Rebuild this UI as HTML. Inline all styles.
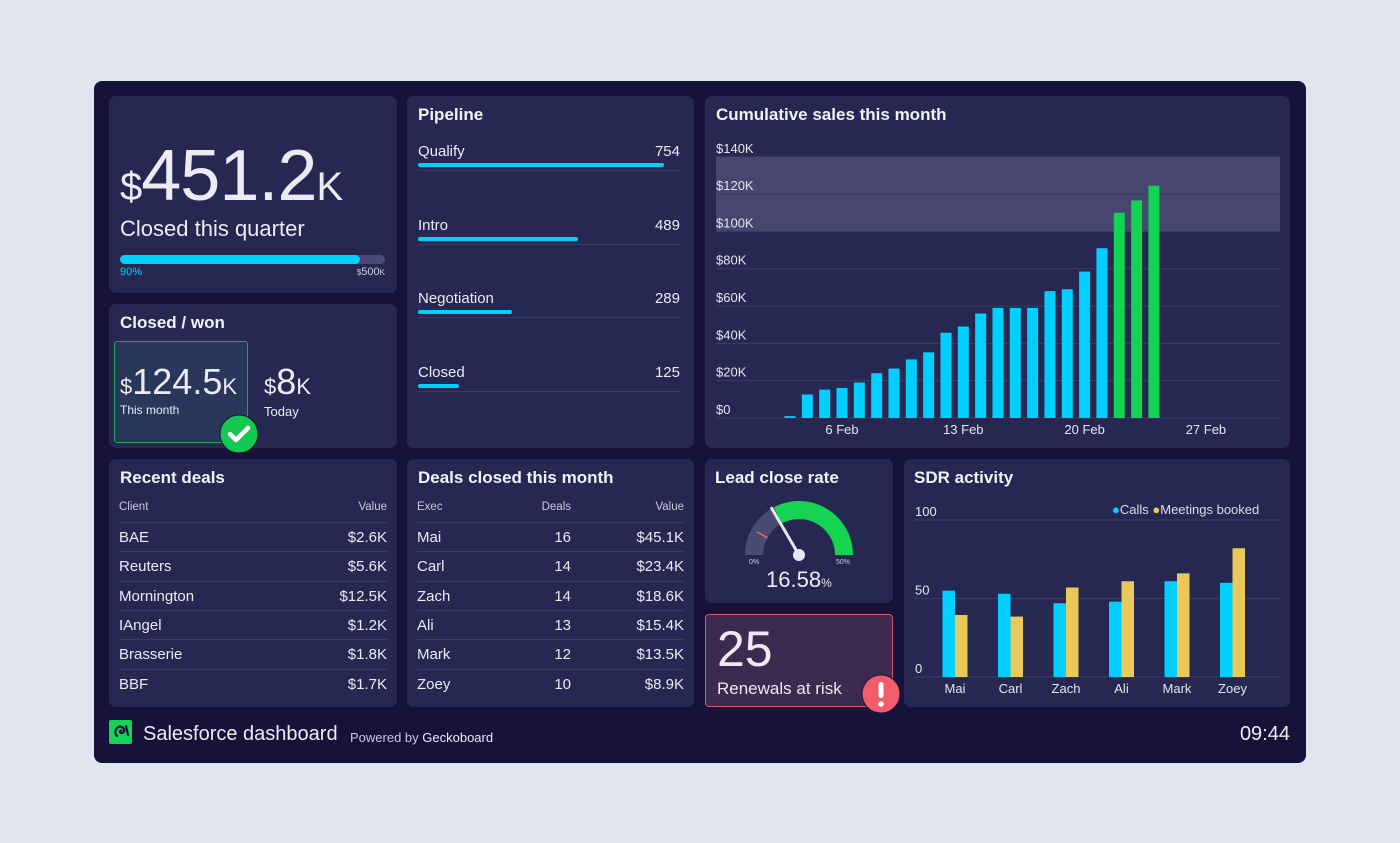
<!DOCTYPE html>
<html><head><meta charset="utf-8">
<style>
*{box-sizing:border-box;margin:0;padding:0}
body{width:1400px;height:843px;background:#e1e5ef;font-family:"Liberation Sans",sans-serif;color:#eceaf2;position:relative;overflow:hidden}
.dash{position:absolute;left:94px;top:81px;width:1212px;height:682px;background:#16123a;border-radius:8px}
.p{position:absolute;background:#272852;border-radius:7px}
.t{position:absolute;font-weight:bold;font-size:17px;color:#f2f1f7}
.a{position:absolute;white-space:nowrap}
.row{position:absolute;left:10px;right:10px;height:29px;font-size:15px;border-top:1px solid #3b3c66}
.row span{position:absolute;top:6px}
.hdr{position:absolute;left:10px;right:10px;font-size:11.5px;color:#c9c8d8}
</style></head><body>
<div class="dash"></div>

<!-- big number -->
<div class="p" style="left:109px;top:96px;width:288px;height:197px">
 <div class="a" style="left:11px;top:44px;font-size:72px;line-height:72px;letter-spacing:-1px"><span style="font-size:40px">$</span>451.2<span style="font-size:40px">K</span></div>
 <div class="a" style="left:11px;top:120px;font-size:22px">Closed this quarter</div>
 <div class="a" style="left:11px;top:159px;width:265px;height:9px;border-radius:5px;background:#4a4b74"><div style="width:240px;height:9px;border-radius:5px;background:#00d1ff"></div></div>
 <div class="a" style="left:11px;top:170px;font-size:11px;color:#00d1ff">90%</div>
 <div class="a" style="right:12px;top:170px;font-size:11px;color:#d0cfe0"><span style="font-size:8px">$</span>500<span style="font-size:8px">K</span></div>
</div>

<!-- closed won -->
<div class="p" style="left:109px;top:304px;width:288px;height:144px">
 <div class="t" style="left:11px;top:9px">Closed / won</div>
 <div class="a" style="left:5px;top:37px;width:134px;height:102px;background:#29375a;border:1px solid #1fa55a;border-radius:3px"></div>
 <div class="a" style="left:11px;top:58px;font-size:36px;line-height:40px"><span style="font-size:22px">$</span>124.5<span style="font-size:22px">K</span></div>
 <div class="a" style="left:11px;top:99px;font-size:12px">This month</div>
 <div class="a" style="left:155px;top:58px;font-size:36px;line-height:40px"><span style="font-size:22px">$</span>8<span style="font-size:22px">K</span></div>
 <div class="a" style="left:155px;top:100px;font-size:13px">Today</div>
</div>
<svg class="a" style="left:219px;top:414px" width="40" height="40"><circle cx="20" cy="20" r="19" fill="#14c850" stroke="#16123a" stroke-width="1"/><path d="M11 20 L17 26 L29 14" stroke="#fff" stroke-width="4.5" fill="none" stroke-linecap="round" stroke-linejoin="round"/></svg>

<!-- pipeline -->
<div class="p" style="left:407px;top:96px;width:287px;height:352px">
 <div class="t" style="left:11px;top:9px">Pipeline</div>
 <div id="pipe"></div>
</div>

<!-- cumulative -->
<div class="p" style="left:705px;top:96px;width:585px;height:352px">
 <div class="t" style="left:11px;top:9px">Cumulative sales this month</div>
</div>
<svg id="cum" class="a" style="left:0;top:0" width="1400" height="843"></svg>

<!-- recent deals -->
<div class="p" style="left:109px;top:459px;width:288px;height:248px">
 <div class="t" style="left:11px;top:9px">Recent deals</div>
 <div class="hdr" style="top:42px"><span>Client</span><span style="position:absolute;right:0">Value</span></div>
 <div id="recent"></div>
</div>

<!-- deals closed -->
<div class="p" style="left:407px;top:459px;width:287px;height:248px">
 <div class="t" style="left:11px;top:9px">Deals closed this month</div>
 <div class="hdr" style="top:42px"><span>Exec</span><span style="position:absolute;right:113px">Deals</span><span style="position:absolute;right:0">Value</span></div>
 <div id="closed"></div>
</div>

<!-- lead close rate -->
<div class="p" style="left:705px;top:459px;width:188px;height:144px">
 <div class="t" style="left:10px;top:9px">Lead close rate</div>
 <div class="a" style="left:44px;top:100px;font-size:7px;color:#d0cfe0">0%</div>
 <div class="a" style="left:131px;top:100px;font-size:7px;color:#d0cfe0">50%</div>
 <div class="a" style="left:61px;top:108px;font-size:22px">16.58<span style="font-size:12px">%</span></div>
</div>
<svg id="gauge" class="a" style="left:0;top:0" width="1400" height="843"></svg>

<!-- renewals -->
<div class="p" style="left:705px;top:614px;width:188px;height:93px;background:#3c2a50;border:1px solid #e05565;border-radius:4px">
 <div class="a" style="left:11px;top:8px;font-size:50px;line-height:52px">25</div>
 <div class="a" style="left:11px;top:64px;font-size:17px">Renewals at risk</div>
</div>
<svg class="a" style="left:861px;top:674px" width="40" height="40"><circle cx="20" cy="20" r="19" fill="#f25d6b" stroke="#16123a"/><rect x="17.5" y="8" width="5" height="16" rx="2.5" fill="#fff"/><circle cx="20" cy="30" r="2.8" fill="#fff"/></svg>

<!-- SDR -->
<div class="p" style="left:904px;top:459px;width:386px;height:248px">
 <div class="t" style="left:10px;top:9px">SDR activity</div>
 <div class="a" style="left:208px;top:43px;font-size:13px;color:#dddce8"><span style="color:#00d1ff">●</span>Calls <span style="color:#e8c95a">●</span>Meetings booked</div>
</div>
<svg id="sdr" class="a" style="left:0;top:0" width="1400" height="843"></svg>

<!-- footer -->
<svg class="a" style="left:109px;top:720px" width="23" height="24"><rect width="23" height="24" rx="2" fill="#14d45a"/><path d="M8 16 C4 12 8 5 13 7 C17 9 15 14 12 13 C10 12 11 10 12.5 10.5" stroke="#16123a" stroke-width="2.2" fill="none" stroke-linecap="round"/><path d="M17 6 L19 15" stroke="#16123a" stroke-width="2.2" stroke-linecap="round"/></svg>
<div class="a" style="left:143px;top:723px;font-size:20px">Salesforce dashboard</div>
<div class="a" style="left:350px;top:730px;font-size:13px;color:#c9c8d8">Powered by <span style="color:#eceaf2">Geckoboard</span></div>
<div class="a" style="right:110px;top:723px;font-size:20px">09:44</div>

<script>
const NS="http://www.w3.org/2000/svg";
function mk(tag,attrs,parent){const e=document.createElementNS(NS,tag);for(const k in attrs)e.setAttribute(k,attrs[k]);parent.appendChild(e);return e;}

// ---------- pipeline ----------
const pipeStages=["Qualify","Intro","Negotiation","Closed"];
const pipeValues=[754,489,289,125];
const pipe=document.getElementById('pipe');
pipeStages.forEach((s,i)=>{
  const top=45+i*73.5;
  const d=document.createElement('div');
  d.className='a';d.style.cssText=`left:11px;top:${top}px;width:262px;height:30px;border-bottom:1px solid #3b3c66`;
  
  
  d.innerHTML=`<span style="position:absolute;left:0;top:2px;font-size:15px">${s}</span><span style="position:absolute;right:0;top:2px;font-size:15px">${pipeValues[i]}</span><div style="position:absolute;left:0;top:22px;height:4px;border-radius:2px;background:#00d1ff;width:${pipeValues[i]/754*246}px"></div>`;
  pipe.appendChild(d);
});

// ---------- tables ----------
const recentClients=["BAE","Reuters","Mornington","IAngel","Brasserie","BBF"];
const recentValues=["$2.6K","$5.6K","$12.5K","$1.2K","$1.8K","$1.7K"];
const execs=["Mai","Carl","Zach","Ali","Mark","Zoey"];
const execDeals=[16,14,14,13,12,10];
const execValues=["$45.1K","$23.4K","$18.6K","$15.4K","$13.5K","$8.9K"];
const rc=document.getElementById('recent');
recentClients.forEach((c,i)=>{
  const r=document.createElement('div');r.className='row';r.style.top=(63+i*29.3)+'px';
  
  
  r.innerHTML=`<span style="left:0">${c}</span><span style="right:0">${recentValues[i]}</span>`;rc.appendChild(r);
});
const cl=document.getElementById('closed');
execs.forEach((c,i)=>{
  const r=document.createElement('div');r.className='row';r.style.top=(63+i*29.3)+'px';
  
  
  r.innerHTML=`<span style="left:0">${c}</span><span style="right:113px">${execDeals[i]}</span><span style="right:0">${execValues[i]}</span>`;cl.appendChild(r);
});

// ---------- cumulative ----------
const cumDays=[3,4,5,6,7,8,9,10,11,12,13,14,15,16,17,18,19,20,21,22,23,24];
const cumValues=[1,12.6,15.2,16.1,19,24,26.5,31.4,35.2,45.7,49,56,59,59,59,68,69,78.5,91,110,116.6,124.5];
const cumTargetDay=22;
const cumTicks=[0,20,40,60,80,100,120,140];
const cumTickLabels=["$0","$20K","$40K","$60K","$80K","$100K","$120K","$140K"];
const cumXTicks=[6,13,20,27];
const cumXLabels=["6 Feb","13 Feb","20 Feb","27 Feb"];
const bandLow=100,bandHigh=140;
const cy=v=>418-v*1.866;
const cx=d=>842+(d-6)*17.33;
const cum=document.getElementById('cum');
const band=mk('rect',{x:716,y:cy(bandHigh),width:564,height:cy(bandLow)-cy(bandHigh),fill:'#46466e'},cum);


cumTicks.forEach((t,i)=>{
  const l=mk('line',{x1:716,x2:1280,y1:cy(t),y2:cy(t),stroke:'#3b3c66','stroke-width':1},cum);
  
  
  const tx=mk('text',{x:716,y:cy(t)-4,fill:'#e6e5ef','font-size':13,'font-family':'Liberation Sans'},cum);
  tx.textContent=cumTickLabels[i];
  
  
});
cumXTicks.forEach((d,i)=>{
  const tx=mk('text',{x:cx(d),y:434,fill:'#e6e5ef','font-size':13,'text-anchor':'middle','font-family':'Liberation Sans'},cum);
  tx.textContent=cumXLabels[i];
  
  
});
cumDays.forEach((d,i)=>{
  const v=cumValues[i];
  const r=mk('rect',{x:cx(d)-5.5,y:cy(v),width:11,height:cy(0)-cy(v),fill:d>=cumTargetDay?'#13d452':'#00cfff'},cum);
  
  
});

// ---------- gauge ----------
const gaugeValue=16.58, gaugeMax=50, gaugeMarker=8;
const g=document.getElementById('gauge');
const GC={x:799,y:555},R1=54,R0=36;
const ang=v=>Math.PI*(1-v/gaugeMax);
function arc(a0,a1,col,name){
  const p=(a,r)=>[GC.x+r*Math.cos(a),GC.y-r*Math.sin(a)];
  const [x0,y0]=p(a0,R1),[x1,y1]=p(a1,R1),[x2,y2]=p(a1,R0),[x3,y3]=p(a0,R0);
  const e=mk('path',{d:`M${x0} ${y0} A${R1} ${R1} 0 0 1 ${x1} ${y1} L${x2} ${y2} A${R0} ${R0} 0 0 0 ${x3} ${y3}Z`,fill:col},g);
  
  
}
arc(ang(0),ang(gaugeValue),'#4a4b72','gauge-track');
arc(ang(gaugeValue)-0.04,ang(gaugeMax),'#14d452','gauge-fill');
const ma=ang(gaugeMarker);
const mkl=mk('line',{x1:GC.x+R0*Math.cos(ma),y1:GC.y-R0*Math.sin(ma),x2:GC.x+(R1-6)*Math.cos(ma),y2:GC.y-(R1-6)*Math.sin(ma),stroke:'#f2606e','stroke-width':1.5},g);


const na=ang(gaugeValue);
const nd=mk('line',{x1:GC.x,y1:GC.y,x2:GC.x+R1*Math.cos(na),y2:GC.y-R1*Math.sin(na),stroke:'#e8e8f0','stroke-width':3,'stroke-linecap':'round'},g);


const hub=mk('circle',{cx:GC.x,cy:GC.y,r:6,fill:'#e8e8f0'},g);



// ---------- SDR ----------
const sdrNames=["Mai","Carl","Zach","Ali","Mark","Zoey"];
const sdrCalls=[55,53,47,48,61,60];
const sdrMeetings=[39.5,38.5,57,61,66,82];
const sdrTicks=[0,50,100];
const sy=v=>677-v*1.57;
const sx=i=>955+i*55.5;
const s=document.getElementById('sdr');
sdrTicks.forEach(t=>{
  const l=mk('line',{x1:914,x2:1280,y1:sy(t),y2:sy(t),stroke:'#3b3c66','stroke-width':1},s);
  
  
  const tx=mk('text',{x:915,y:sy(t)-4,fill:'#e6e5ef','font-size':13,'font-family':'Liberation Sans'},s);
  tx.textContent=t;
  
  
});
sdrNames.forEach((n,i)=>{
  const c=mk('rect',{x:sx(i)-12.5,y:sy(sdrCalls[i]),width:12.5,height:sy(0)-sy(sdrCalls[i]),fill:'#00cfff'},s);
  
  
  const m=mk('rect',{x:sx(i),y:sy(sdrMeetings[i]),width:12.5,height:sy(0)-sy(sdrMeetings[i]),fill:'#e8c95a'},s);
  
  
  const tx=mk('text',{x:sx(i),y:693,fill:'#e6e5ef','font-size':13,'text-anchor':'middle','font-family':'Liberation Sans'},s);
  tx.textContent=n;
  
  
});
</script>
</body></html>
